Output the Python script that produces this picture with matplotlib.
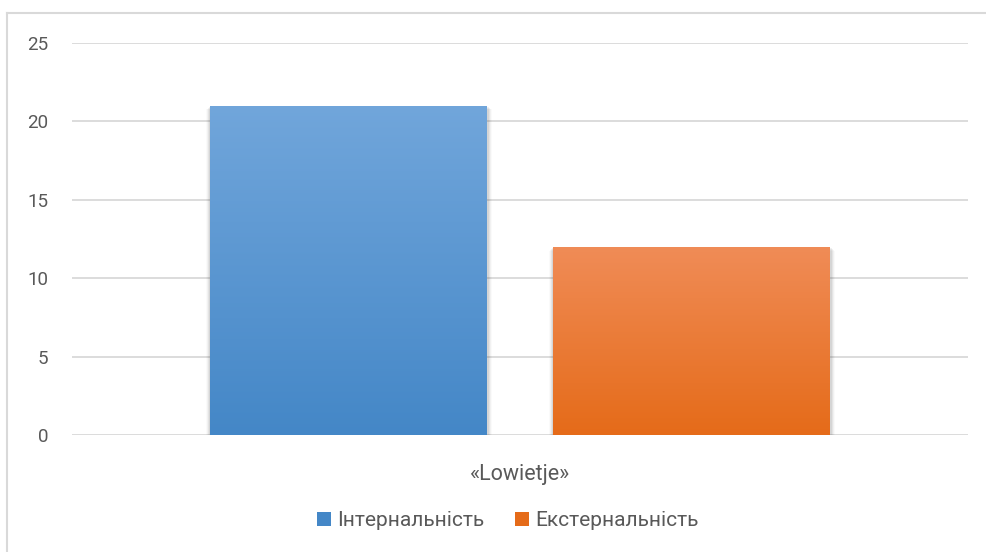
import matplotlib.pyplot as plt
import numpy as np
from matplotlib.colors import LinearSegmentedColormap
from matplotlib.patches import Rectangle

plt.rcParams["font.family"] = ["Roboto", "DejaVu Sans"]

category = "«Lowietje»"
series = ["Інтернальність", "Екстернальність"]
values = [21, 12]
yticks = [0, 5, 10, 15, 20, 25]

# top / bottom colours of each bar's gradient
grad = [("#71a6db", "#4487c7"), ("#f08c57", "#e56b19")]
text_color = "#595959"
grid_color = "#d9d9d9"

W, H = 986, 552
fig = plt.figure(figsize=(W / 100, H / 100), dpi=100)

# chart frame (only top and left edges fall inside the image)
fig.add_artist(plt.Line2D([7 / W, 1], [1 - 13 / H, 1 - 13 / H], color="#d9d9d9", lw=1.5))
fig.add_artist(plt.Line2D([7 / W, 7 / W], [0, 1 - 13 / H], color="#d9d9d9", lw=1.5))

ax = fig.add_axes([72 / W, 1 - 435 / H, (968 - 72) / W, (435 - 43) / H])
ax.set_xlim(0, 1)
ax.set_ylim(0, 25)
ax.set_yticks(yticks)
ax.yaxis.grid(True, color=grid_color, lw=1.3)
ax.set_axisbelow(True)
for s in ax.spines.values():
    s.set_visible(False)
ax.tick_params(axis="y", length=0, pad=17, labelsize=13.5, labelcolor=text_color)
ax.set_xticks([0.5])
ax.set_xticklabels([category])
ax.tick_params(axis="x", length=0, pad=21, labelsize=15.5, labelcolor=text_color)

# bar positions in axes fraction
bar_w = 277 / 896
lefts = [(210 - 72) / 896, (553 - 72) / 896]

handles = []
for x0, v, (c_top, c_bot), name in zip(lefts, values, grad, series):
    # soft shadow, mostly to the sides and just under the base
    for k, a in enumerate([0.06, 0.05, 0.035, 0.02]):
        d = 0.0011 * (k + 1)
        ax.add_patch(Rectangle((x0 - d, -0.06 * (k + 1)), bar_w + 2 * d + 0.001, v,
                               color="black", alpha=a, lw=0, zorder=2))
    rect = Rectangle((x0, 0), bar_w, v, facecolor=c_bot, lw=0, zorder=3)
    ax.add_patch(rect)
    cmap = LinearSegmentedColormap.from_list(name, [c_bot, c_top])
    g = np.linspace(0, 1, 256).reshape(-1, 1)
    im = ax.imshow(g, extent=[x0, x0 + bar_w, 0, v], origin="lower", cmap=cmap,
                   aspect="auto", zorder=4)
    im.set_clip_path(rect)
    handles.append(Rectangle((0, 0), 1, 1, facecolor=c_bot, lw=0))

ax.set_xlim(0, 1)
ax.set_ylim(0, 25)

fig.legend(handles, series, loc="center", bbox_to_anchor=(508 / W, 1 - 521 / H), ncol=2,
           frameon=False, fontsize=15, labelcolor=text_color, handlelength=0.67,
           handleheight=0.67, handletextpad=0.3, columnspacing=1.5)

fig.savefig("out.png", dpi=100, facecolor="white")
